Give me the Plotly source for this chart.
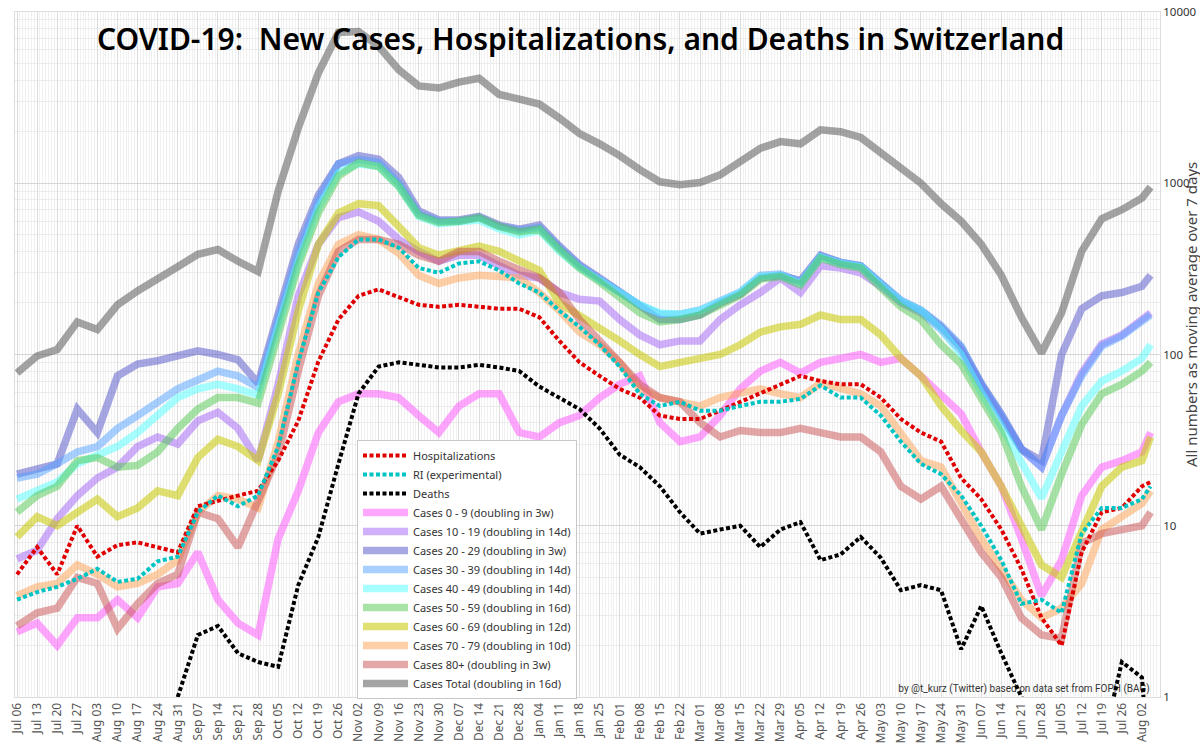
import plotly.graph_objects as go
import pandas as pd

# ---------------- data (7-day moving averages) ----------------
dates = list(pd.date_range("2020-07-06", "2021-08-02", freq="7D").strftime("%Y-%m-%d")) + ["2021-08-05"]

cases_total = [78, 98, 107, 155, 140, 195, 235, 280, 325, 385,
               410, 350, 305, 900, 2100, 4400, 7600, 7700, 6300, 4600,
               3700, 3600, 3900, 4100, 3300, 3100, 2900, 2400, 1950, 1700,
               1450, 1200, 1020, 980, 1010, 1120, 1350, 1600, 1750, 1700,
               2050, 2000, 1850, 1500, 1200, 1000, 760, 600, 440, 290,
               165, 102, 175, 400, 620, 700, 820, 950]
cases_0_9 = [2.4, 2.7, 2.0, 2.9, 2.9, 3.7, 2.9, 4.4, 4.6, 7.0,
             3.7, 2.7, 2.3, 8.4, 16, 35, 53, 59, 59, 56,
             44, 35, 50, 59, 59, 35, 33, 40, 44, 56,
             67, 75, 40, 31, 33, 44, 63, 80, 90, 78,
             90, 95, 100, 90, 95, 75, 59, 45, 27, 17,
             8.4, 3.9, 6.3, 15, 22, 24, 27, 35]
cases_10_19 = [6.4, 7.2, 11, 15, 19, 22, 29, 33, 30, 41,
               46, 37, 24, 67, 220, 440, 630, 680, 600, 470,
               400, 350, 380, 380, 330, 290, 280, 230, 210, 205,
               160, 130, 114, 120, 120, 160, 195, 230, 280, 230,
               330, 320, 300, 250, 200, 175, 140, 105, 66, 43,
               28, 22, 44, 78, 115, 130, 160, 175]
cases_20_29 = [20, 21.5, 23, 48, 35, 75, 88, 92, 98, 105,
               100, 93, 68, 170, 440, 850, 1300, 1450, 1380, 1080,
               690, 610, 610, 640, 570, 540, 570, 430, 335, 280,
               230, 190, 160, 160, 170, 200, 225, 280, 290, 270,
               380, 345, 330, 260, 205, 180, 145, 110, 68, 45,
               28, 24, 100, 185, 220, 230, 250, 290]
cases_30_39 = [19, 20, 23, 27, 29, 37, 44, 53, 63, 71,
               80, 75, 64, 160, 400, 800, 1300, 1380, 1320, 1000,
               660, 600, 600, 630, 560, 530, 550, 420, 330, 275,
               230, 195, 172, 172, 182, 205, 232, 290, 295, 265,
               375, 345, 330, 262, 208, 182, 148, 112, 67, 44,
               28, 22, 44, 75, 112, 128, 158, 170]
cases_40_49 = [14.3, 16, 18, 23, 26, 29, 35, 44, 56, 63,
               67, 63, 58, 145, 350, 720, 1150, 1300, 1250, 960,
               640, 580, 590, 610, 540, 500, 530, 400, 320, 270,
               225, 195, 175, 172, 180, 205, 230, 285, 290, 260,
               370, 340, 325, 255, 205, 180, 140, 100, 60, 38,
               23, 14.5, 27, 50, 70, 80, 95, 114]
cases_50_59 = [12, 15, 17, 24, 25, 22, 22.5, 27, 37, 48,
               56, 56, 52, 130, 330, 670, 1100, 1320, 1250, 960,
               650, 590, 600, 630, 560, 520, 540, 410, 320, 265,
               215, 175, 155, 160, 170, 195, 222, 275, 285, 255,
               365, 335, 320, 245, 190, 160, 114, 88, 56, 35,
               17, 9.5, 20, 39, 59, 67, 80, 90]
cases_60_69 = [8.6, 11.3, 10, 12, 14.3, 11.3, 12.7, 16, 15, 25,
               32, 29, 24, 59, 180, 440, 670, 760, 740, 560,
               420, 380, 400, 430, 400, 350, 310, 200, 170, 145,
               120, 100, 85, 90, 95, 100, 114, 135, 145, 150,
               170, 160, 160, 130, 95, 75, 50, 36, 27, 17,
               10, 5.9, 5.0, 9.5, 17, 22, 24, 33]
cases_70_79 = [3.9, 4.4, 4.6, 5.9, 5.2, 4.4, 4.6, 5.2, 6.3, 12,
               15, 14.3, 12.7, 31, 100, 260, 440, 500, 470, 390,
               290, 260, 280, 290, 285, 280, 230, 180, 135, 114,
               90, 63, 56, 53, 50, 56, 59, 63, 59, 56,
               68, 63, 59, 50, 35, 24, 22, 13.5, 8.4, 5.6,
               3.7, 2.9, 3.3, 4.6, 9.5, 11.3, 13.5, 16]
cases_80p = [2.6, 3.1, 3.3, 5.0, 4.6, 2.5, 3.5, 4.6, 5.2, 12,
             11, 7.5, 14, 26, 80, 220, 400, 470, 470, 440,
             380, 350, 400, 400, 350, 310, 280, 230, 160, 120,
             90, 67, 56, 53, 40, 33, 36, 35, 35, 37,
             35, 33, 33, 27, 17, 14.3, 17, 11, 7, 5,
             2.9, 2.3, 2.2, 7.9, 9, 9.5, 10, 12]
hospitalizations = [5.2, 7.5, 5.2, 10, 6.6, 7.7, 8, 7.5, 7.0, 13,
                    14, 15, 16, 24, 41, 91, 160, 220, 240, 215,
                    195, 190, 195, 190, 185, 185, 165, 120, 90, 75,
                    63, 56, 44, 42, 42, 47, 53, 59, 67, 75,
                    70, 67, 67, 56, 42, 35, 31, 19, 14.3, 9.5,
                    5.6, 2.9, 2.0, 7, 12, 12.7, 17, 18]
ri_experimental = [3.7, 4.1, 4.4, 4.9, 5.6, 4.7, 4.9, 6.2, 6.6, 12,
                   15, 13, 15, 29, 90, 230, 370, 470, 470, 420,
                   320, 300, 340, 350, 310, 260, 230, 180, 145, 114,
                   85, 59, 50, 53, 47, 47, 50, 53, 53, 55,
                   66, 56, 56, 44, 31, 23, 20, 15, 10, 6.3,
                   3.5, 3.7, 3.1, 9, 12.7, 12.7, 14.3, 17]
deaths = [None, None, None, None, None, None, None, None, 1.0, 2.3,
          2.6, 1.8, 1.6, 1.5, 4.5, 8.6, 23, 59, 85, 90,
          87, 84, 84, 87, 84, 80, 65, 56, 48, 37,
          26, 22, 17, 12, 9, 9.5, 10, 7.5, 9.5, 10.5,
          6.3, 6.8, 8.6, 6.5, 4.2, 4.5, 4.2, 1.9, 3.4, 1.8,
          1.0, 0.5, 0.5, 0.5, 0.5, 1.6, 1.3, 0.3]

case_names = ["Cases 0 - 9 (doubling in 3w)", "Cases 10 - 19 (doubling in 14d)",
              "Cases 20 - 29 (doubling in 3w)", "Cases 30 - 39 (doubling in 14d)",
              "Cases 40 - 49 (doubling in 14d)", "Cases 50 - 59 (doubling in 16d)",
              "Cases 60 - 69 (doubling in 12d)", "Cases 70 - 79 (doubling in 10d)",
              "Cases 80+ (doubling in 3w)", "Cases Total (doubling in 16d)"]
case_series = [cases_0_9, cases_10_19, cases_20_29, cases_30_39, cases_40_49,
               cases_50_59, cases_60_69, cases_70_79, cases_80p, cases_total]
case_colors = ["rgba(255,80,255,0.5)", "rgba(150,80,245,0.45)", "rgba(80,80,200,0.5)",
               "rgba(80,160,255,0.5)", "rgba(80,255,255,0.5)", "rgba(80,200,80,0.5)",
               "rgba(200,200,0,0.55)", "rgba(255,160,80,0.5)", "rgba(200,80,80,0.5)",
               "rgba(80,80,80,0.52)"]

dot_names = ["Hospitalizations", "RI (experimental)", "Deaths"]
dot_series = [hospitalizations, ri_experimental, deaths]
dot_colors = ["#e00000", "#00c4c4", "#000000"]

y_ticks = [1, 10, 100, 1000, 10000]
y_ticktext = ["1", "10", "100", "1000", "10000"]

credit = "by @t_kurz (Twitter) based on data set from FOPH (BAG)"
title = "COVID-19:  New Cases, Hospitalizations, and Deaths in Switzerland"
ytitle = "All numbers as moving average over 7 days"

# ---------------- figure ----------------
fig = go.Figure()

# credit text, drawn below the data lines
fig.add_trace(go.Scatter(x=["2021-08-04 18:00"], y=[1.1], mode="text", text=[credit],
                         textposition="middle left",
                         textfont=dict(size=10, color="#333333", family="Roboto"),
                         showlegend=False, hoverinfo="skip"))

for i, (name, ys, col) in enumerate(zip(case_names, case_series, case_colors)):
    fig.add_trace(go.Scatter(x=dates, y=ys, name=name, mode="lines",
                             line=dict(color=col, width=7.5), legendrank=10 + i))

for i, (name, ys, col) in enumerate(zip(dot_names, dot_series, dot_colors)):
    fig.add_trace(go.Scatter(x=dates, y=ys, name=name, mode="lines",
                             line=dict(color=col, width=4, dash="4px,2.5px"),
                             legendrank=1 + i, connectgaps=False))

L, R, T, B = 15, 40, 12, 53
W, H = 1200, 750
pw, ph = W - L - R, H - T - B

def px_x(px):
    return (px - L) / pw

def px_y(py):
    return (H - B - py) / ph

fig.update_layout(
    width=W, height=H,
    margin=dict(l=L, r=R, t=T, b=B, autoexpand=False),
    paper_bgcolor="white", plot_bgcolor="white",
    font=dict(family="Noto Sans", color="#333333"),
    showlegend=True,
    legend=dict(x=px_x(357), y=px_y(440), xanchor="left", yanchor="top",
                bgcolor="white", bordercolor="#c8c8c8", borderwidth=1,
                font=dict(size=11, color="#333333", family="Noto Sans"),
                itemwidth=45, tracegroupgap=0, traceorder="normal"),
    xaxis=dict(type="date", range=["2020-07-05 07:00", "2021-08-08 07:00"],
               automargin=False,
               tick0="2020-07-06", dtick=7 * 86400000, tickformat="%b %d",
               tickangle=-90, tickfont=dict(size=12, color="#555555"),
               showgrid=True, gridcolor="#dcdcdc", gridwidth=1,
               minor=dict(dtick=86400000, showgrid=True, gridcolor="#f0f0f0"),
               showline=True, linecolor="#dddddd", mirror=True, ticks="", zeroline=False),
    yaxis=dict(type="log", range=[0, 4], side="right", automargin=False,
               tickvals=y_ticks, ticktext=y_ticktext,
               tickfont=dict(size=11.5, color="#333333"),
               showgrid=True, gridcolor="#d6d6d6",
               minor=dict(dtick="D1", showgrid=True, gridcolor="#ececec"),
               showline=True, linecolor="#dddddd", mirror=True, ticks="", zeroline=False),
    annotations=[
        dict(text=title, xref="paper", yref="paper", x=px_x(580), y=px_y(38),
             xanchor="center", yanchor="middle", showarrow=False,
             font=dict(size=30, color="#000000", family="Noto Sans", weight=600)),
        dict(text=ytitle, xref="paper", yref="paper", x=px_x(1191), y=px_y(315),
             xanchor="center", yanchor="middle", showarrow=False, textangle=-90,
             font=dict(size=15, color="#444444", family="Noto Sans")),
    ],
)

fig.write_html("out.html")
